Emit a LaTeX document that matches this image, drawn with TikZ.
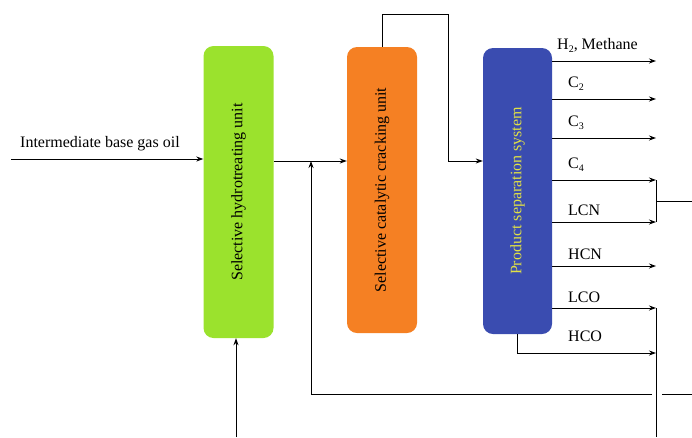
\documentclass[tikz,border=0pt]{standalone}
\usepackage{fontspec}
\setmainfont{Liberation Serif}
\usetikzlibrary{arrows.meta}
\definecolor{hgreen}{RGB}{155,226,45}
\definecolor{corange}{RGB}{245,128,35}
\definecolor{pblue}{RGB}{58,76,176}
\definecolor{ptext}{RGB}{225,225,70}
\newcommand{\lowsub}[1]{\raisebox{-0.45ex}{\fontsize{10}{10}\selectfont #1}}
\tikzset{
  unitbox/.style={rounded corners=10pt, draw=none, inner sep=0pt, minimum width=70pt, font=\fontsize{16}{18}\selectfont},
  arr/.style={-{Stealth[length=7pt,width=5pt]}, line width=0.9pt},
  ln/.style={line width=0.9pt},
  lbl/.style={anchor=base west, inner sep=0pt, font=\fontsize{16}{18}\selectfont}
}
\begin{document}
\begin{tikzpicture}[x=1pt,y=-1pt]
\useasboundingbox (0,0) rectangle (692,437);
\node[unitbox, fill=hgreen, minimum height=292pt] (ht) at (238.5,192) {\rotatebox{90}{Selective hydrotreating unit}};
\node[unitbox, fill=corange, minimum height=286pt] (cc) at (382,190) {\rotatebox{90}{Selective catalytic cracking unit}};
\node[unitbox, fill=pblue, minimum height=286pt, minimum width=69pt, text=ptext] (ps) at (517.5,191) {\rotatebox{90}{Product separation system}};
% input
\coordinate (in) at (11,159);
\node[lbl] (inl) at (20,147) {Intermediate base gas oil};
\draw[arr] (in) -- (in -| ht.west);
% green to orange
\coordinate (m1) at (273,161);
\draw[arr] (ht.east |- m1) -- (cc.west |- m1);
% orange to separation
\coordinate (t1) at (448,14);
\coordinate (m2) at (448,161);
\draw[arr] (cc.north) |- (t1) -- (m2) -- (ps.west |- m2);
% outputs
\coordinate (eH) at (656,61);
\coordinate (eC2) at (656,99);
\coordinate (eC3) at (656,138);
\coordinate (eC4) at (656,180);
\coordinate (eLCN) at (656,222);
\coordinate (eHCN) at (656,266);
\coordinate (eLCO) at (656,308);
\coordinate (eHCO) at (656,353);
\draw[arr] (ps.east |- eH) -- (eH);
\draw[arr] (ps.east |- eC2) -- (eC2);
\draw[arr] (ps.east |- eC3) -- (eC3);
\draw[arr] (ps.east |- eC4) -- (eC4);
\draw[arr] (ps.east |- eLCN) -- (eLCN);
\draw[arr] (ps.east |- eHCN) -- (eHCN);
\draw[arr] (ps.east |- eLCO) -- (eLCO);
\draw[arr] (ps.south) |- (eHCO);
\node[lbl] (lH) at (557,49) {H\lowsub{2}, Methane};
\node[lbl] (lC2) at (568,87) {C\lowsub{2}};
\node[lbl] (lC3) at (568,126) {C\lowsub{3}};
\node[lbl] (lC4) at (568,168) {C\lowsub{4}};
\node[lbl] (lLCN) at (568,215) {LCN};
\node[lbl] (lHCN) at (568,259) {HCN};
\node[lbl] (lLCO) at (568,302) {LCO};
\node[lbl] (lHCO) at (568,341) {HCO};
% C4/LCN merge
\coordinate (b1) at (656,201);
\coordinate (b2) at (692,201);
\draw[ln] (eC4) -- (eLCN);
\draw[ln] (b1) -- (b2);
% LCO/HCO merge
\coordinate (d1) at (656,437);
\draw[ln] (eLCO) -- (d1);
% recycle
\coordinate (r0) at (692,394);
\coordinate (r1) at (662,394);
\coordinate (r2) at (652,394);
\coordinate (r3) at (311,394);
\coordinate (r4) at (311,161);
\draw[ln] (r0) -- (r1);
\draw[arr] (r2) -- (r3) -- (r4);
% bottom feed to hydrotreater
\coordinate (f0) at (236,437);
\draw[arr] (f0) -- (f0 |- ht.south);
\end{tikzpicture}
\end{document}
